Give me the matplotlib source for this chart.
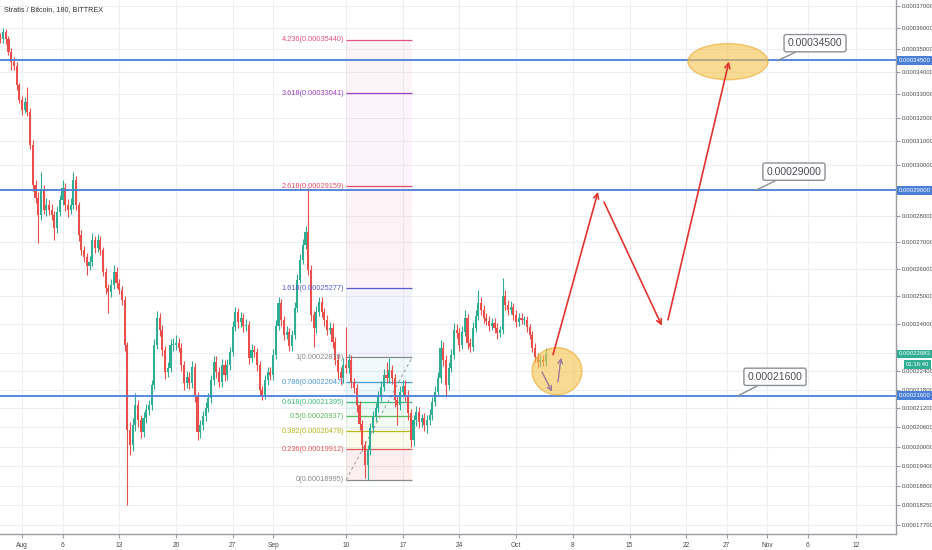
import numpy as np
import matplotlib
matplotlib.use("Agg")
import matplotlib.pyplot as plt
import matplotlib.dates as mdates
import matplotlib.transforms as mtransforms
from matplotlib.patches import Ellipse
from datetime import datetime, timedelta

plt.rcParams['font.family'] = ['Liberation Sans', 'DejaVu Sans']

# 8h candles, prices in satoshi
start = datetime(2018, 7, 29, 8)
first_open = 35600
closes = [35450, 35810, 35450, 34900, 34450, 34270, 33390, 32770, 32340, 32680,
          32250, 30850, 29220, 28700, 28030, 29020, 28230, 28420, 28230, 28030,
          27530, 28150, 28620, 29100, 28420, 28230, 28420, 29420, 28420, 27260,
          26700, 26440, 26100, 26260, 27070, 26770, 27070, 26700, 25890, 25300,
          25160, 25410, 25890, 25480, 25230, 24870, 23300, 20510, 20050, 20670,
          21310, 20830, 20450, 20890, 21150, 21310, 21950, 23300, 24230, 23810,
          23130, 22380, 22520, 23300, 23300, 23370, 23200, 22620, 22020, 22220,
          22020, 22550, 21630, 20450, 20670, 20960, 21220, 21530, 22120, 22720,
          22380, 22050, 22620, 22280, 22620, 23060, 23910, 24440, 24090, 24230,
          23950, 23980, 22860, 23130, 23060, 22620, 21790, 21630, 22120, 22380,
          22280, 22960, 23950, 24760, 24160, 23640, 23740, 23270, 23640, 24580,
          25590, 26330, 26880, 27370, 25960, 24330, 23880, 24440, 24800, 24440,
          24160, 23810, 23880, 23400, 22790, 22380, 22180, 22620, 22520, 22790,
          22050, 21860, 21310, 20700, 20050, 19440, 19890, 20580, 20930, 21220,
          21600, 21890, 22280, 22180, 22450, 22180, 21470, 21310, 21730, 21920,
          21630, 21050, 20200, 20830, 21090, 20770, 20890, 20670, 20830, 20990,
          21410, 21730, 22180, 23200, 22790, 21950, 22520, 22960, 23810, 23710,
          23300, 23740, 24230, 23370, 23230, 23880, 24300, 24760, 24510, 24230,
          24130, 23950, 24060, 23880, 23710, 23810, 25010, 24690, 24510, 24620,
          24330, 24090, 24230, 24160, 24160, 23910, 23640, 23200, 22890, 22720,
          22790, 22720, 22983]
upper_wick = [150, 190, 120, 180, 150, 200, 140, 120, 160, 220,
              620, 150, 200, 180, 250, 730, 200, 260, 180, 220,
              150, 240, 200, 320, 180, 220, 260, 330, 150, 120,
              180, 140, 150, 200, 270, 160, 230, 150, 120, 140,
              130, 200, 260, 180, 150, 130, 120, 100, 250, 220,
              390, 160, 140, 200, 180, 160, 150, 200, 250, 180,
              160, 120, 200, 180, 220, 250, 160, 140, 130, 200,
              150, 200, 120, 100, 160, 150, 180, 170, 150, 200,
              180, 150, 200, 160, 180, 160, 200, 180, 150, 220,
              170, 200, 140, 180, 160, 120, 110, 130, 170, 180,
              160, 200, 220, 220, 150, 140, 190, 150, 180, 200,
              220, 200, 240, 230, 1730, 180, 150, 200, 180, 160,
              150, 170, 200, 160, 150, 180, 160, 220, 1290, 180,
              160, 140, 130, 120, 110, 120, 150, 160, 180, 140,
              160, 180, 200, 440, 410, 150, 120, 140, 190, 200,
              200, 150, 120, 160, 180, 150, 140, 160, 150, 170,
              160, 190, 200, 270, 180, 150, 200, 190, 230, 200,
              180, 220, 280, 150, 170, 200, 220, 470, 200, 180,
              160, 170, 150, 160, 180, 150, 650, 200, 170, 190,
              150, 170, 160, 180, 150, 140, 120, 130, 150, 140,
              170, 150, 200]
lower_wick = [180, 150, 200, 150, 360, 180, 200, 160, 220, 150,
              200, 180, 250, 220, 1070, 200, 180, 240, 200, 190,
              460, 180, 150, 200, 220, 260, 180, 150, 200, 240,
              200, 180, 330, 150, 180, 200, 150, 180, 160, 220,
              750, 180, 150, 200, 160, 180, 200, 2240, 310, 200,
              180, 220, 200, 160, 150, 180, 160, 140, 150, 220,
              200, 220, 180, 150, 200, 180, 160, 200, 220, 180,
              200, 160, 220, 250, 180, 150, 160, 140, 150, 180,
              200, 180, 160, 200, 150, 160, 140, 150, 200, 180,
              200, 180, 220, 160, 180, 200, 200, 160, 150, 180,
              170, 150, 130, 150, 200, 180, 160, 200, 170, 150,
              140, 130, 150, 160, 180, 200, 650, 170, 150, 180,
              200, 180, 160, 200, 180, 220, 200, 160, 170, 180,
              200, 180, 220, 200, 180, 390, 445, 160, 150, 140,
              150, 160, 140, 170, 150, 200, 220, 640, 180, 160,
              200, 220, 220, 170, 180, 200, 160, 190, 250, 170,
              150, 140, 130, 150, 200, 380, 160, 150, 140, 170,
              200, 160, 150, 220, 180, 150, 140, 160, 170, 180,
              150, 170, 160, 180, 200, 160, 140, 170, 180, 160,
              170, 180, 150, 160, 170, 180, 150, 160, 170, 180,
              170, 150, 140]

# fibonacci extension drawn on the chart
fib_levels = ['0', '0.236', '0.382', '0.5', '0.618', '0.786', '1', '1.618', '2.618', '3.618', '4.236']
fib_prices = [18995, 19912, 20478, 20937, 21395, 22047, 22878, 25277, 29159, 33041, 35440]
fib_colors = ['#8a8a8a', '#e05a5a', '#b8b820', '#5cb85c', '#3dbb7a', '#4a9ad4',
              '#8a8a8a', '#5a5ad0', '#e0506a', '#a040c0', '#e8508a']
fib_bands = ['#f05050', '#e8e040', '#70d070', '#40c890', '#40b8d8', '#60c0e8',
             '#8080f0', '#f080a0', '#e890c8', '#f090b0']
fib_start, fib_end = datetime(2018, 9, 10), datetime(2018, 9, 18, 4)

# horizontal levels and their callouts (day offset from Aug 1)
levels = [34500, 29000, 21600]
callout_text_at = [(97.9, 35280), (95.3, 29750), (92.96, 22220)]
callout_point = [(93.33, 34500), (90.6, 29000), (88.4, 21600)]

# projected path arrows (day offset, price)
path_arrows = [((65.56, 22960), (71.11, 28940)),
               ((71.85, 28540), (79.0, 23950)),
               ((79.75, 24160), (87.28, 34450))]
small_arrows = [((64.2, 22380), (65.43, 21730)),
                ((66.17, 22050), (66.54, 22860))]
ellipses = [(87.16, 34450, 9.88, 1620), (66.05, 22415, 6.17, 1570)]

yticks = [37000, 36000, 35000, 34000, 33000, 32000, 31000, 30000, 29000, 28000,
          27000, 26000, 25000, 24000, 23000, 22400, 21800, 21200, 20600, 20000,
          19400, 18800, 18250, 17700]
hidden_ticks = [29000, 23000]  # covered by the price tags
xtick_dates = [datetime(2018, 8, 1), datetime(2018, 8, 6), datetime(2018, 8, 13),
               datetime(2018, 8, 20), datetime(2018, 8, 27), datetime(2018, 9, 1),
               datetime(2018, 9, 10), datetime(2018, 9, 17), datetime(2018, 9, 24),
               datetime(2018, 10, 1), datetime(2018, 10, 8), datetime(2018, 10, 15),
               datetime(2018, 10, 22), datetime(2018, 10, 27), datetime(2018, 11, 1),
               datetime(2018, 11, 6), datetime(2018, 11, 12)]
xtick_labels = ['Aug', '6', '13', '20', '27', 'Sep', '10', '17', '24', 'Oct',
                '8', '15', '22', '27', 'Nov', '6', '12']

S = 1e-8
aug1 = datetime(2018, 8, 1)


def day(d):
    return mdates.date2num(aug1 + timedelta(days=d))


def fwd(v):
    return np.power(np.clip(v, 1e-12, None), 0.3)


def inv(v):
    return np.power(np.clip(v, 1e-12, None), 1 / 0.3)


fig = plt.figure(figsize=(9.32, 5.5), dpi=100)
ax = fig.add_axes([0, 16 / 550, 896 / 932, 534 / 550])
ax.set_yscale('function', functions=(fwd, inv))

n = len(closes)
t = np.array([mdates.date2num(start + timedelta(hours=8 * i)) for i in range(n)])
c = np.array(closes, float)
o = np.array([first_open] + closes[:-1], float)
hi = np.maximum(o, c) + np.array(upper_wick)
lo = np.minimum(o, c) - np.array(lower_wick)
up = c >= o
cols = np.where(up, '#2fae93', '#ea4f4c')

ax.vlines(t, lo * S, hi * S, colors=cols, lw=0.8, zorder=3)
bottoms = np.minimum(o, c)
heights = np.maximum(np.abs(c - o), 25)
ax.bar(t, heights * S, bottom=bottoms * S, width=0.27, color=cols, lw=0, zorder=3)

# fib bands, lines, labels
fs, fe = mdates.date2num(fib_start), mdates.date2num(fib_end)
for i in range(len(fib_prices) - 1):
    ax.fill_between([fs, fe], fib_prices[i] * S, fib_prices[i + 1] * S,
                    color=fib_bands[i], alpha=0.09, lw=0, zorder=1)
for lvl, p, col in zip(fib_levels, fib_prices, fib_colors):
    ax.hlines(p * S, fs, fe, color=col, lw=0.9, zorder=2)
    ax.annotate(f"{lvl}({p * S:.8f})", xy=(fs, p * S), xytext=(-1.5, 0),
                textcoords='offset points', ha='right', va='center',
                fontsize=5.3, color=col, zorder=4)
ax.plot([fs, fe], [fib_prices[0] * S, fib_prices[6] * S], ls=(0, (3, 3)),
        color='#9a9a9a', lw=0.7, zorder=2)

# horizontal levels
blue = '#4a7fd8'
trans = mtransforms.blended_transform_factory(ax.transAxes, ax.transData)
ftrans = mtransforms.blended_transform_factory(fig.transFigure, ax.transData)
for p, (tx, ty), (px, py) in zip(levels, callout_text_at, callout_point):
    ax.axhline(p * S, color=blue, lw=1.3, zorder=4)
    ax.text(1.003, p * S, f"{p * S:.8f}", transform=trans, ha='left', va='center',
            fontsize=4.3, color='white', clip_on=False, zorder=6,
            bbox=dict(boxstyle='square,pad=0.3', fc=blue, ec='none'))
    ax.annotate(f"{p * S:.8f}", xy=(day(px), py * S), xytext=(day(tx), ty * S),
                ha='center', va='center', fontsize=7.5, color='#4a4d55', zorder=7,
                bbox=dict(boxstyle='round,pad=0.35,rounding_size=0.2', fc='white',
                          ec='#8c8f96', lw=1),
                arrowprops=dict(arrowstyle='-', color='#8c8f96', lw=1,
                                shrinkA=0, shrinkB=0))

# current price tag
last = closes[-1]
ax.text(1.003, last * S, f"{last * S:.8f}", transform=trans, ha='left', va='center',
        fontsize=4.3, color='white', clip_on=False, zorder=6,
        bbox=dict(boxstyle='square,pad=0.3', fc='#2fae93', ec='none'))
ax.annotate("01:16:40", xy=(1.0, last * S), xycoords=ftrans, xytext=(-2, -7.5),
            textcoords='offset points', ha='right', va='center', fontsize=4.3,
            color='white', annotation_clip=False, zorder=6,
            bbox=dict(boxstyle='square,pad=0.3', fc='#2fae93', ec='none'))

# ellipses and projected path
for cx, cy, w, h in ellipses:
    ax.add_patch(Ellipse((day(cx), cy * S), w, h * S, fc='#f5c24a', ec='#eaa92a',
                         alpha=0.6, lw=1, zorder=5))
for (x0, y0), (x1, y1) in path_arrows:
    ax.annotate('', xy=(day(x1), y1 * S), xytext=(day(x0), y0 * S), zorder=6,
                arrowprops=dict(arrowstyle='->', color='#e3342f', lw=1.2,
                                shrinkA=0, shrinkB=0, mutation_scale=9))
for (x0, y0), (x1, y1) in small_arrows:
    ax.annotate('', xy=(day(x1), y1 * S), xytext=(day(x0), y0 * S), zorder=6,
                arrowprops=dict(arrowstyle='->', color='#a0789a', lw=1,
                                shrinkA=0, shrinkB=0, mutation_scale=8))

# axes styling
ax.set_xlim(day(-2.716), day(107.9))
ax.set_ylim(17440 * S, 37290 * S)
ax.yaxis.tick_right()
ax.set_yticks([v * S for v in yticks])
ax.set_yticklabels(['' if v in hidden_ticks else f"{v * S:.8f}" for v in yticks])
ax.yaxis.set_minor_locator(matplotlib.ticker.NullLocator())
ax.set_xticks([mdates.date2num(d) for d in xtick_dates])
ax.set_xticklabels(xtick_labels)
ax.tick_params(axis='y', labelsize=4.3, labelcolor='#4a4a4a', color='#9a9da4',
               length=3, pad=1)
ax.tick_params(axis='x', labelsize=4.8, labelcolor='#4a4a4a', color='#9a9da4',
               length=3, pad=3)
ax.grid(True, color='#eceef2', lw=0.8, zorder=0)
ax.set_axisbelow(True)
for side in ['top', 'left']:
    ax.spines[side].set_visible(False)
for side in ['right', 'bottom']:
    ax.spines[side].set_color('#9a9da4')
    ax.spines[side].set_linewidth(1)

ax.text(0.004, 0.982, "Stratis / Bitcoin, 180, BITTREX", transform=ax.transAxes,
        fontsize=5.2, color='#333333', ha='left', va='center')

fig.savefig("out.png", dpi=100)
